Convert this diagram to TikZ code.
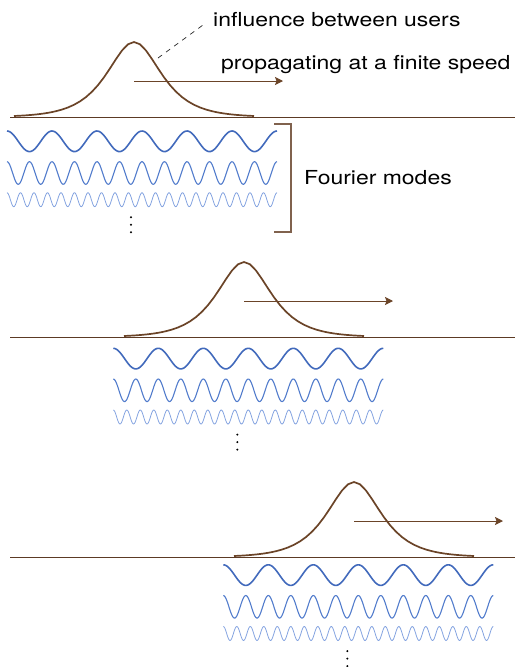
\documentclass[tikz,border=0pt]{standalone}
\usepackage{fontspec}
\setmainfont{TeX Gyre Heros}[FakeStretch=1.19]
\usetikzlibrary{positioning, arrows.meta}

\definecolor{pulsebrown}{RGB}{107,68,40}
\definecolor{axisbrown}{RGB}{92,58,36}
\definecolor{bracketbrown}{RGB}{128,98,78}
\definecolor{modeA}{RGB}{66,106,188}
\definecolor{modeB}{RGB}{82,124,204}
\definecolor{modeC}{RGB}{132,163,224}

\begin{document}
\begin{tikzpicture}[
				x=1pt, y=-1pt, >={Stealth[length=8pt, width=8pt, inset=1.5pt]},
				pulse/.style={pulsebrown, line width=1.7pt, line join=miter},
				axisline/.style={axisbrown, line width=1pt},
				speed/.style={->, pulsebrown, line width=1pt},
				leader/.style={black!85, line width=0.7pt, dash pattern=on 5pt off 5pt},
				bracket/.style={bracketbrown, line width=1.3pt},
				modeone/.style={modeA, line width=1.6pt},
				modetwo/.style={modeB, line width=1.1pt},
				modethree/.style={modeC, line width=0.8pt},
				txt/.style={inner sep=0pt, font=\fontsize{19.3}{23}\selectfont}
				]
				\useasboundingbox (0,0) rectangle (515,667);
				% three snapshots of the pulse, each moved right and down
				\foreach \i/\wx/\wy in {0/7/0, 1/113.3/217.3, 2/223.3/433.8} {
					\coordinate (l\i) at (10, 117+220*\i);
					\coordinate (r\i) at (515, 117+220*\i);
					\coordinate (a\i) at (134+110*\i, 81+220*\i);
					\coordinate (b\i) at (283+110*\i, 81+220*\i);
					\draw[axisline] (l\i) -- (r\i);
					\draw[pulse] plot[domain=-120:120, samples=41]
						({134+110*\i+\x}, {117+220*\i-75/cosh(\x/24)});
					\draw[speed] (a\i) -- (b\i);
					% Fourier modes under the pulse
					\draw[modeone] plot[domain=0:270, samples=200] ({\wx+\x}, {\wy+141.3-10.3*cos(\x*8)});
					\draw[modetwo] plot[domain=0:270, samples=300] ({\wx+\x}, {\wy+173-11.3*cos(\x*16)});
					\draw[modethree] plot[domain=0:270, samples=400] ({\wx+\x}, {\wy+199.7-7*cos(\x*26.6667)});
					\foreach \d in {0,1,2}
						\fill (\wx+124, \wy+217.3+7.5*\d) circle (1.1);
				}
				\node[txt, anchor=base west] (users) at (213, 26) {influence between users};
				\node[txt, anchor=base west] (speedlbl) at (221, 69) {propagating at a finite speed};
				\coordinate (lead) at (158, 58);
				\coordinate (leadend) at (203, 25);
				\draw[leader] (lead) -- (leadend);
				\coordinate (brtop) at (274, 124);
				\coordinate (brbot) at (274, 232);
				\coordinate (brmid) at (291, 178);
				\draw[bracket] (brtop) -- ++(17,0) |- (brbot);
				\node[txt, right=13pt of brmid] (modes) {Fourier modes};
			\end{tikzpicture}
\end{document}
